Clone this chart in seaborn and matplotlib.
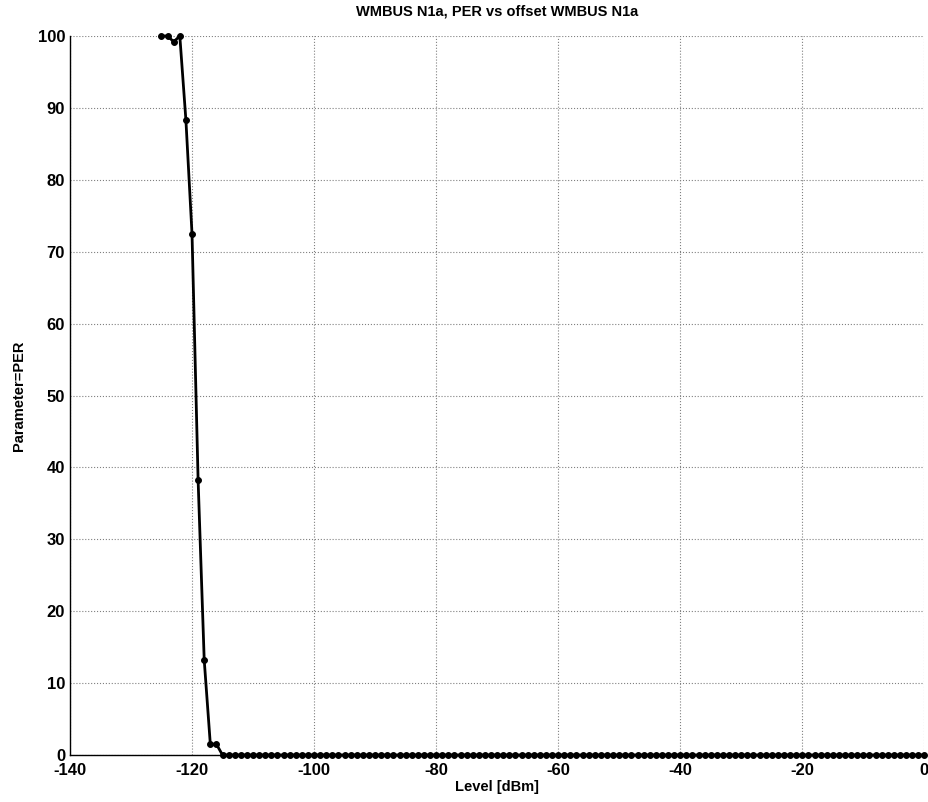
import pandas as pd
import matplotlib
matplotlib.use("Agg")
import matplotlib.pyplot as plt
import seaborn as sns

# --- Données ---
level_dbm = list(range(-125, 1))
per_head = [100.0, 100.0, 99.2, 100.0, 88.3, 72.5, 38.2, 13.2, 1.5, 1.5]
per = per_head + [0.0] * (len(level_dbm) - len(per_head))

x_ticks = [-140, -120, -100, -80, -60, -40, -20, 0]
y_ticks = [0, 10, 20, 30, 40, 50, 60, 70, 80, 90, 100]

df = pd.DataFrame({"level": level_dbm, "per": per})

# --- Style ---
sns.set_style("white")
plt.rcParams['font.family'] = ['Liberation Sans', 'DejaVu Sans']
plt.rcParams['font.weight'] = 'bold'
plt.rcParams['axes.unicode_minus'] = False
plt.rcParams['text.color'] = 'black'
plt.rcParams['axes.labelcolor'] = 'black'

fig = plt.figure(figsize=(9.29, 8.02), dpi=100)
ax = fig.add_axes([0.0753, 0.0586, 0.9197, 0.8965])

sns.lineplot(x='level', y='per', data=df, ax=ax, color='black',
             linewidth=2, marker='o', markersize=4.2, markeredgecolor='black',
             clip_on=False, zorder=5)

ax.set_xlim(-140, 0)
ax.set_ylim(0, 100)
ax.set_xticks(x_ticks)
ax.set_yticks(y_ticks)
ax.tick_params(direction='in', length=4, labelsize=12, width=1,
               colors='black')
ax.tick_params(axis='x', pad=6)
for lbl in ax.get_xticklabels() + ax.get_yticklabels():
    lbl.set_fontweight('bold')

ax.grid(True, linestyle=':', color='#808080', linewidth=0.8)
for s in ['top', 'right']:
    ax.spines[s].set_visible(False)
for s in ['left', 'bottom']:
    ax.spines[s].set_color('black')
    ax.spines[s].set_linewidth(1)

ax.set_title("WMBUS N1a, PER vs offset WMBUS N1a", fontsize=10.5,
             fontweight='bold', pad=15, color='black')
ax.set_xlabel("Level [dBm]", fontsize=10.5, fontweight='bold', labelpad=1)
ax.set_ylabel("Parameter=PER", fontsize=10.5, fontweight='bold', labelpad=8)

plt.savefig("out.png", dpi=100)
